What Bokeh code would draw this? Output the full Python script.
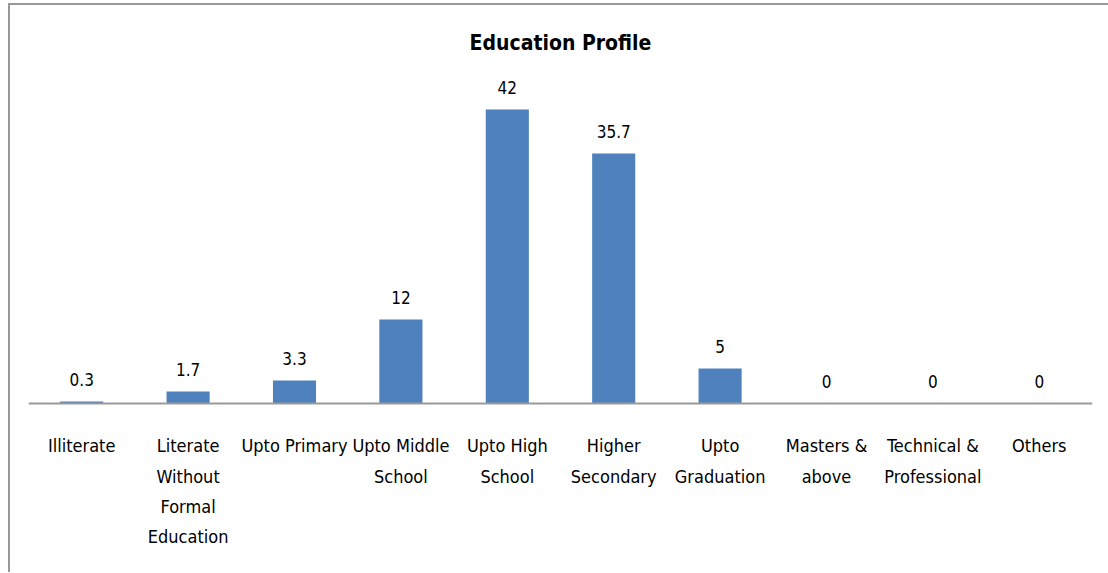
from bokeh.plotting import figure
from bokeh.models import ColumnDataSource, FactorRange, Range1d, Span
from bokeh.core.properties import value
from bokeh.embed import file_html
from bokeh.resources import INLINE

categories = ["Illiterate", "Literate Without Formal Education", "Upto Primary",
              "Upto Middle School", "Upto High School", "Higher Secondary",
              "Upto Graduation", "Masters & above", "Technical & Professional", "Others"]
tick_labels = ["Illiterate", "Literate\nWithout\nFormal\nEducation", "Upto Primary",
               "Upto Middle\nSchool", "Upto High\nSchool", "Higher\nSecondary",
               "Upto\nGraduation", "Masters &\nabove", "Technical &\nProfessional", "Others"]
values = [0.3, 1.7, 3.3, 12, 42, 35.7, 5, 0, 0, 0]
value_labels = ["0.3", "1.7", "3.3", "12", "42", "35.7", "5", "0", "0", "0"]

FONT = "DejaVu Sans Condensed"

src = ColumnDataSource(dict(cat=categories, val=values, vlab=value_labels,
                            tlab=tick_labels, zero=[0] * len(values)))

p = figure(width=1100, height=569, x_range=FactorRange(*categories),
           y_range=Range1d(-24.43, 49.14), output_backend="svg", toolbar_location=None,
           min_border_left=18, min_border_right=18, min_border_top=54,
           min_border_bottom=0)
p.styles = {"border-top": "2px solid #999999", "border-left": "2px solid #999999",
            "margin-left": "8px", "margin-top": "3px"}
p.axis.visible = False
p.grid.visible = False
p.outline_line_color = None
p.background_fill_color = "white"
p.border_fill_color = "white"

p.title.text = "Education Profile"
p.title.align = "center"
p.title.text_font = FONT
p.title.text_font_size = "21px"
p.title.text_font_style = "bold"
p.title.text_color = "black"
p.title.offset = 0

p.vbar(x="cat", top="val", bottom=0, width=0.405, source=src,
       fill_color="#4F81BD", line_color=None)

p.add_layout(Span(location=0, dimension="width", line_color="#999999", line_width=2))

p.text(x="cat", y="val", text="vlab", source=src, text_align="center",
       text_baseline="middle", y_offset=-22, text_font=value(FONT),
       text_font_size="17px", text_color="black")

p.text(x="cat", y="zero", text="tlab", source=src, text_align="center",
       text_baseline="top", y_offset=32, text_font=value(FONT),
       text_font_size="18px", text_color="black", text_line_height=1.43)

open("out.html", "w").write(file_html(p, INLINE))
